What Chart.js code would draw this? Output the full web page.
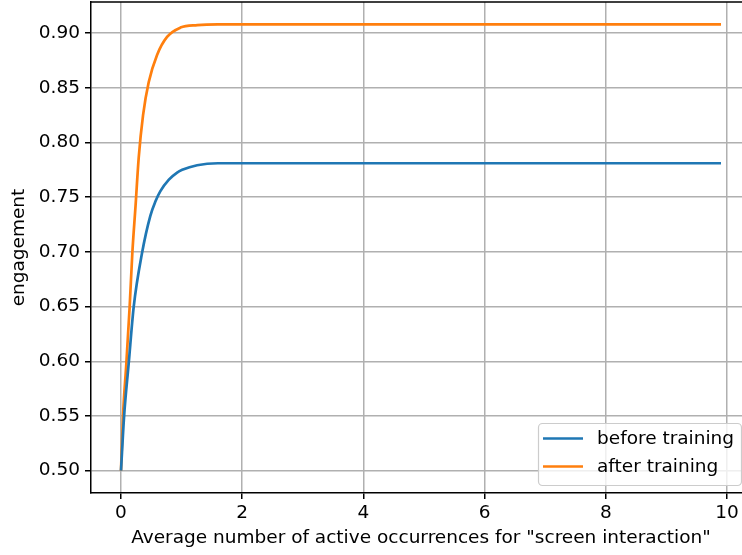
<!DOCTYPE html>
<html>
<head>
<meta charset="utf-8">
<script src="https://cdn.jsdelivr.net/npm/chart.js@4.4.1/dist/chart.umd.min.js"></script>
<style>
  html, body { margin: 0; padding: 0; background: #fff; overflow: hidden; }
  #wrap { width: 752px; height: 555px; position: relative; }
</style>
</head>
<body>
<div id="wrap"><canvas id="chart"></canvas></div>
<script>
// values
const beforeX = [0, 0.05, 0.127, 0.21, 0.347, 0.484, 0.567, 0.65, 0.79, 0.926, 1.01, 1.256, 1.6, 2, 3, 4, 5, 6, 7, 8, 9, 9.9];
const beforeY = [0.500, 0.549, 0.598, 0.650, 0.699, 0.733, 0.746, 0.7555, 0.766, 0.7725, 0.775, 0.7792, 0.781, 0.781, 0.781, 0.781, 0.781, 0.781, 0.781, 0.781, 0.781, 0.781];
const afterX = [0, 0.033, 0.088, 0.143, 0.187, 0.24, 0.292, 0.364, 0.457, 0.595, 0.76, 0.98, 1.26, 1.6, 2, 3, 4, 5, 6, 7, 8, 9, 9.9];
const afterY = [0.500, 0.550, 0.598, 0.650, 0.699, 0.742, 0.786, 0.825, 0.855, 0.880, 0.8965, 0.905, 0.9073, 0.908, 0.908, 0.908, 0.908, 0.908, 0.908, 0.908, 0.908, 0.908, 0.908];
const xTicks = [0, 2, 4, 6, 8, 10];
const yTicks = [0.50, 0.55, 0.60, 0.65, 0.70, 0.75, 0.80, 0.85, 0.90];
const seriesLabels = ['before training', 'after training'];
const seriesColors = ['#1f77b4', '#ff7f0e'];

function toPoints(xs, ys) {
    return xs.map((x, i) => ({ x: x, y: ys[i] }));
}

const FONT = { family: '"DejaVu Sans", sans-serif', size: 18.5 };

// top and right spines (chart.js only draws left/bottom borders)
const framePlugin = {
    id: 'frame',
    afterDraw(chart) {
        const { ctx, chartArea: a } = chart;
        ctx.save();
        ctx.strokeStyle = '#000';
        ctx.lineWidth = 1.5;
        ctx.beginPath();
        ctx.moveTo(a.left, a.top);
        ctx.lineTo(a.right, a.top);
        ctx.lineTo(a.right, a.bottom);
        ctx.stroke();
        ctx.restore();
    }
};

// matplotlib style legend inside the plot, lower right
const legendPlugin = {
    id: 'innerLegend',
    afterDraw(chart) {
        const ctx = chart.ctx;
        const box = { x: 538, y: 423, w: 203, h: 62 };
        ctx.save();
        ctx.beginPath();
        ctx.roundRect(box.x + 0.5, box.y + 0.5, box.w, box.h, 4);
        ctx.fillStyle = 'rgba(255,255,255,0.8)';
        ctx.fill();
        ctx.strokeStyle = '#cccccc';
        ctx.lineWidth = 1.2;
        ctx.stroke();
        ctx.font = '18.5px "DejaVu Sans", sans-serif';
        ctx.textBaseline = 'middle';
        ctx.fillStyle = '#000';
        chart.data.datasets.forEach((ds, i) => {
            const y = 438.5 + i * 28;
            ctx.strokeStyle = ds.borderColor;
            ctx.lineWidth = 2.7;
            ctx.beginPath();
            ctx.moveTo(543, y);
            ctx.lineTo(583, y);
            ctx.stroke();
            ctx.fillText(ds.label, 597, y + 1);
        });
        ctx.restore();
    }
};

new Chart(document.getElementById('chart'), {
    type: 'line',
    data: {
        datasets: [
            {
                label: seriesLabels[0],
                data: toPoints(beforeX, beforeY),
                borderColor: seriesColors[0],
                backgroundColor: seriesColors[0],
                borderWidth: 2.7,
                pointRadius: 0,
                cubicInterpolationMode: 'monotone',
                fill: false,
            },
            {
                label: seriesLabels[1],
                data: toPoints(afterX, afterY),
                borderColor: seriesColors[1],
                backgroundColor: seriesColors[1],
                borderWidth: 2.7,
                pointRadius: 0,
                cubicInterpolationMode: 'monotone',
                fill: false,
            }
        ]
    },
    options: {
        responsive: true,
        maintainAspectRatio: false,
        devicePixelRatio: 1,
        animation: false,
        layout: { padding: { top: 2, right: 1, bottom: 0, left: 0 } },
        plugins: {
            legend: { display: false },
            tooltip: { enabled: false },
        },
        scales: {
            x: {
                type: 'linear',
                min: -0.495,
                max: 10.395,
                afterBuildTicks: scale => { scale.ticks = xTicks.map(v => ({ value: v })); },
                afterFit: scale => {
                    scale.height = 62;
                    scale.paddingLeft = 0;
                    scale.paddingRight = 0;
                },
                ticks: {
                    color: '#000',
                    font: FONT,
                    padding: 3,
                    maxRotation: 0,
                    autoSkip: false,
                    callback: v => String(v),
                },
                grid: { color: '#b0b0b0', lineWidth: 1.5, tickColor: '#000', tickLength: 6 },
                border: { display: true, color: '#000', width: 1.5 },
                title: {
                    display: true,
                    text: 'Average number of active occurrences for "screen interaction"',
                    color: '#000',
                    font: FONT,
                    padding: { top: 0, bottom: 6 },
                },
            },
            y: {
                type: 'linear',
                min: 0.4796,
                max: 0.9284,
                afterBuildTicks: scale => { scale.ticks = yTicks.map(v => ({ value: v })); },
                afterFit: scale => {
                    scale.width = 91;
                    scale.paddingTop = 0;
                    scale.paddingBottom = 0;
                },
                ticks: {
                    color: '#000',
                    font: FONT,
                    padding: 5,
                    autoSkip: false,
                    callback: v => v.toFixed(2),
                },
                grid: { color: '#b0b0b0', lineWidth: 1.5, tickColor: '#000', tickLength: 6 },
                border: { display: true, color: '#000', width: 1.5 },
                title: {
                    display: true,
                    text: 'engagement',
                    color: '#000',
                    font: FONT,
                    padding: { top: 8, bottom: 0 },
                },
            }
        }
    },
    plugins: [framePlugin, legendPlugin]
});
</script>
</body>
</html>
